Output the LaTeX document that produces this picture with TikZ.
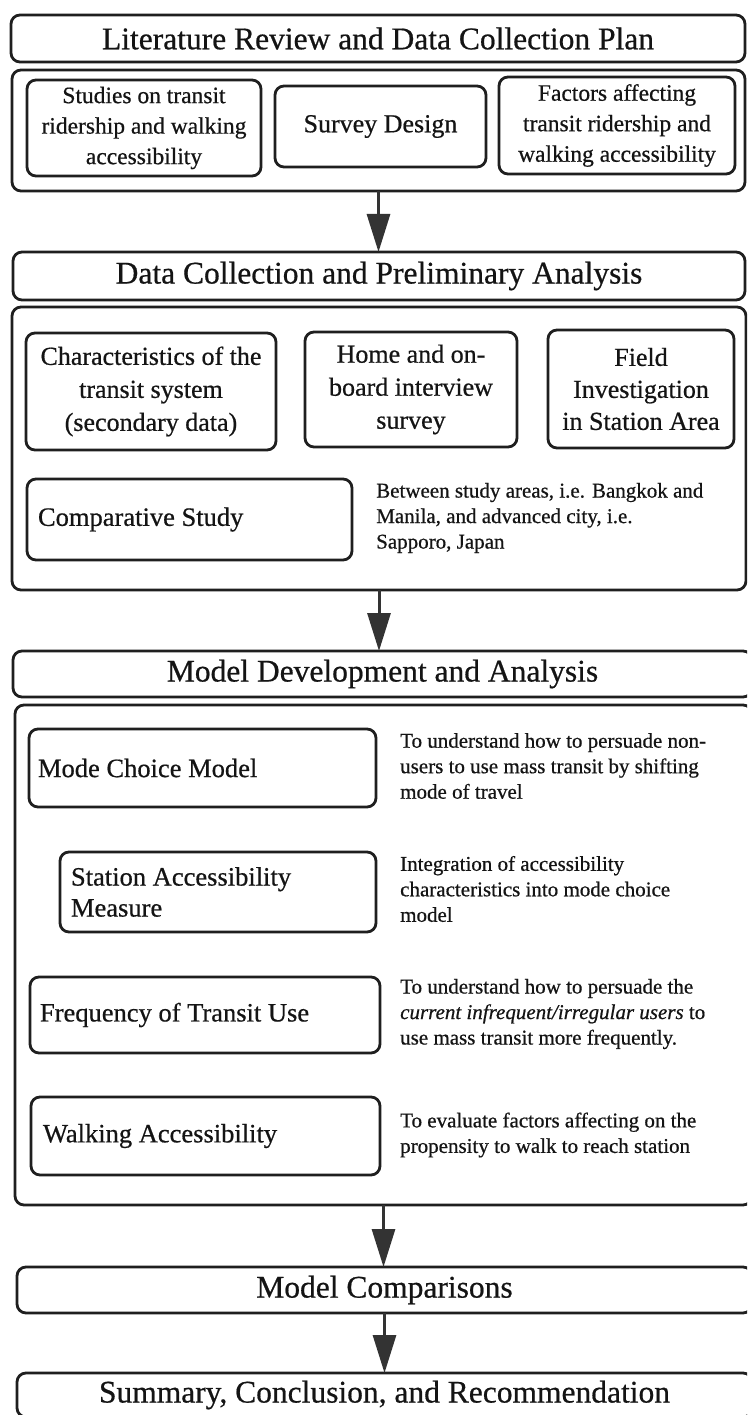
\documentclass[tikz,border=0pt]{standalone}
\usepackage{fontspec}
\setmainfont{Liberation Serif}[FakeBold=0.6]
\usetikzlibrary{arrows.meta}
\begin{document}
\begin{tikzpicture}[x=1pt,y=-1pt,
  box/.style={draw=black!88, line width=2.8pt, rounded corners=9pt, inner sep=0pt, outer sep=0pt, text=black!92},
  hdr/.style={box, font=\fontsize{31.5}{37}\selectfont},
  cbox/.style={box, align=center},
  lbox/.style={box, align=flush left},
  side/.style={anchor=west, align=flush left, inner sep=0pt, text=black!92, font=\fontsize{21}{25.5}\selectfont},
  arr/.style={draw=black!80, line width=3pt, -{Triangle[length=38pt,width=23pt]}}
]
\useasboundingbox (0,0) rectangle (747,1415);
\clip (0,0) rectangle (747,1415);
\fill[white] (0,0) rectangle (747,1415);

% Section 1
\node[hdr, minimum width=734pt, minimum height=47pt] (A) at (378,38.5) {Literature Review and Data Collection Plan};
\node[box, minimum width=733pt, minimum height=121pt] (B) at (378.5,130.5) {};
\node[cbox, font=\fontsize{23.5}{30.5}\selectfont, minimum width=234pt, minimum height=96pt] (B1) at (144,128) {Studies on transit\\ridership and walking\\accessibility};
\node[cbox, font=\fontsize{26}{32}\selectfont, minimum width=211pt, minimum height=81pt] (B2) at (380.5,126.5) {Survey Design};
\node[cbox, font=\fontsize{23.5}{30.5}\selectfont, minimum width=236pt, minimum height=97pt] (B3) at (617,125.5) {Factors affecting\\transit ridership and\\walking accessibility};

% Section 2
\node[hdr, minimum width=732pt, minimum height=48pt] (C) at (379,276) {Data Collection and Preliminary Analysis};
\node[box, minimum width=734pt, minimum height=283pt] (D) at (379,448.5) {};
\node[cbox, font=\fontsize{26}{33}\selectfont, minimum width=250pt, minimum height=117pt] (D1) at (151,391.5) {Characteristics of the\\transit system\\(secondary data)};
\node[cbox, font=\fontsize{26}{33}\selectfont, minimum width=212pt, minimum height=115pt] (D2) at (411,389.5) {Home and on-\\board interview\\survey};
\node[cbox, font=\fontsize{26}{32}\selectfont, minimum width=186pt, minimum height=118pt] (D3) at (641,389) {Field\\Investigation\\in Station Area};
\node[lbox, font=\fontsize{26.5}{31}\selectfont, minimum width=325pt, minimum height=81pt, text width=303pt, inner xsep=11pt] (D4) at (189.5,519.5) {Comparative Study};
\node[side] (D4t) at (376,518) {Between study areas, i.e. Bangkok and\\Manila, and advanced city, i.e.\\Sapporo, Japan};

% Section 3
\node[hdr, minimum width=739pt, minimum height=46pt] (E) at (382.5,674) {Model Development and Analysis};
\node[box, minimum width=737pt, minimum height=500pt] (F) at (383.5,955) {};
\node[lbox, font=\fontsize{26.5}{31}\selectfont, minimum width=347pt, minimum height=78pt, text width=329pt, inner xsep=9pt] (F1) at (202.5,768) {Mode Choice Model};
\node[side] (F1t) at (400,766) {To understand how to persuade non-\\users to use mass transit by shifting\\mode of travel};
\node[lbox, font=\fontsize{26.5}{31}\selectfont, minimum width=316pt, minimum height=80pt, text width=294pt, inner xsep=11pt] (F2) at (218,892) {Station Accessibility\\Measure};
\node[side] (F2t) at (400,889) {Integration of accessibility\\characteristics into mode choice\\model};
\node[lbox, font=\fontsize{26.5}{31}\selectfont, minimum width=350pt, minimum height=76pt, text width=330pt, inner xsep=10pt] (F3) at (205,1015) {Frequency of Transit Use};
\node[side] (F3t) at (400,1014) {To understand how to persuade the\\\textit{current infrequent/irregular users} to\\use mass transit more frequently.};
\node[lbox, font=\fontsize{26.5}{31}\selectfont, minimum width=349pt, minimum height=78pt, text width=325pt, inner xsep=12pt] (F4) at (205.5,1136) {Walking Accessibility};
\node[side] (F4t) at (400,1135) {To evaluate factors affecting on the\\propensity to walk to reach station};

% Section 4
\node[hdr, minimum width=735pt, minimum height=46pt] (G) at (384.5,1290) {Model Comparisons};
\node[hdr, minimum width=735pt, minimum height=44pt] (H) at (384.5,1395) {Summary, Conclusion, and Recommendation};

% Arrows
\draw[arr] (B.south) -- (B.south |- C.north);
\draw[arr] (D.south) -- (D.south |- E.north);
\draw[arr] (F.south) -- (F.south |- G.north);
\draw[arr] (G.south) -- (G.south |- H.north);
\end{tikzpicture}
\end{document}
